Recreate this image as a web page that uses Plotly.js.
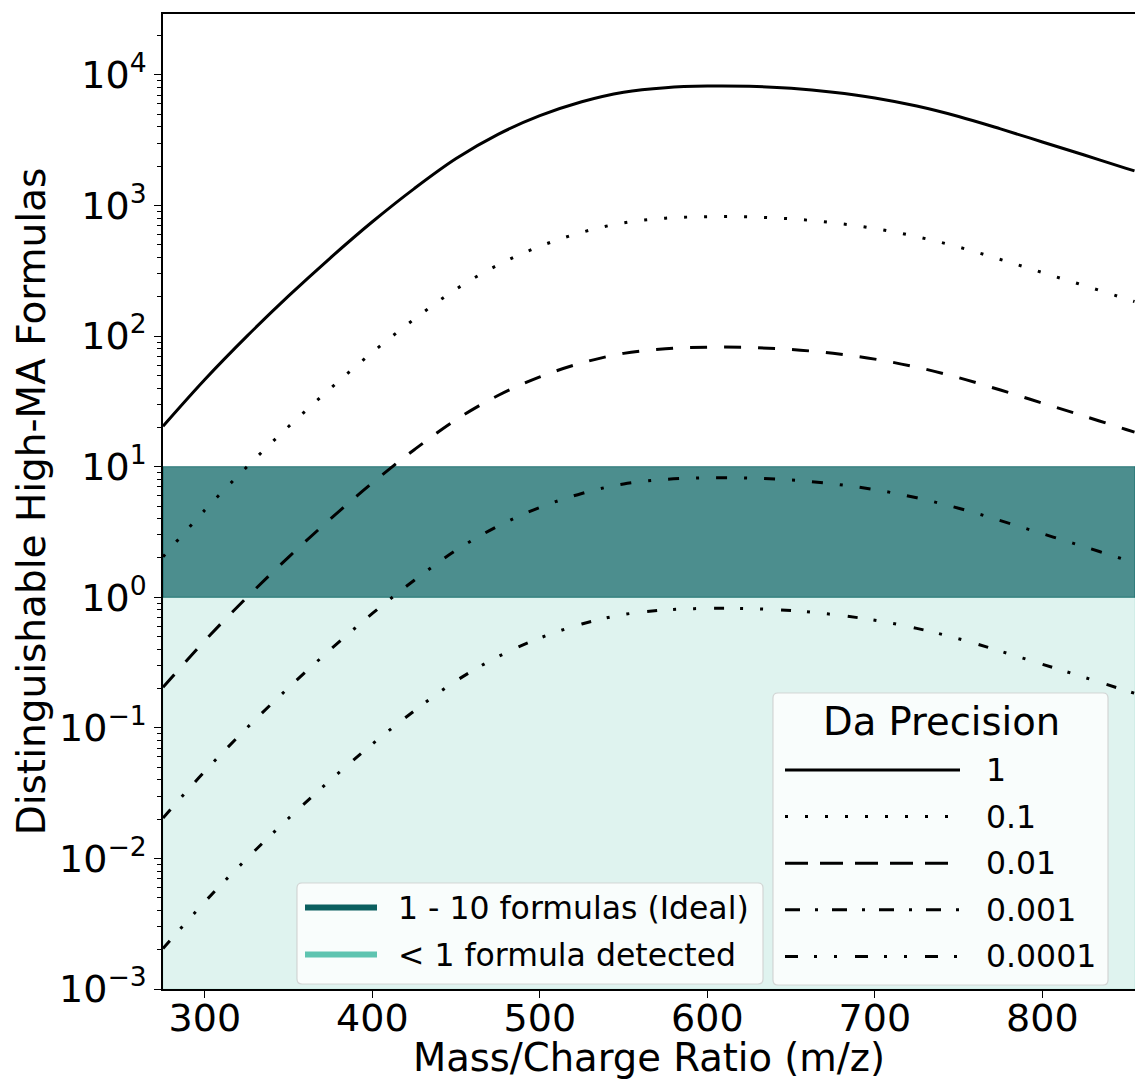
<!DOCTYPE html>
<html>
<head>
<meta charset="utf-8">
<script src="https://cdn.plot.ly/plotly-3.0.1.min.js"></script>
<style>
  html, body { margin: 0; padding: 0; background: #ffffff; }
  #chart { width: 1135px; height: 1080px; }
</style>
</head>
<body>
<div id="chart"></div>
<script>
// Mass/charge grid (m/z)
const mz = [275, 300, 325, 350, 375, 400, 425, 450, 475, 500, 525, 550, 575,
            600, 625, 650, 675, 700, 725, 750, 775, 800, 825, 850, 855];

// Distinguishable high-MA formulas for each Da precision
const prec1 = [20.42, 46.56, 99.54, 203.2, 398.1, 751.6, 1349, 2291, 3508, 4875, 6237, 7379, 7998,
               8222, 8185, 7907, 7379, 6668, 5781, 4808, 3864, 3069, 2438, 1928, 1841];
const prec01 = [2.042, 4.656, 9.954, 20.32, 39.81, 75.16, 134.9, 229.1, 350.8, 487.5, 623.7, 737.9, 799.8,
                822.2, 818.5, 790.7, 737.9, 666.8, 578.1, 480.8, 386.4, 306.9, 243.8, 192.8, 184.1];
const prec001 = [0.2042, 0.4656, 0.9954, 2.032, 3.981, 7.516, 13.49, 22.91, 35.08, 48.75, 62.37, 73.79, 79.98,
                 82.22, 81.85, 79.07, 73.79, 66.68, 57.81, 48.08, 38.64, 30.69, 24.38, 19.28, 18.41];
const prec0001 = [0.02042, 0.04656, 0.09954, 0.2032, 0.3981, 0.7516, 1.349, 2.291, 3.508, 4.875, 6.237, 7.379, 7.998,
                  8.222, 8.185, 7.907, 7.379, 6.668, 5.781, 4.808, 3.864, 3.069, 2.438, 1.928, 1.841];
const prec00001 = [0.002042, 0.004656, 0.009954, 0.02032, 0.03981, 0.07516, 0.1349, 0.2291, 0.3508, 0.4875, 0.6237, 0.7379, 0.7998,
                   0.8222, 0.8185, 0.7907, 0.7379, 0.6668, 0.5781, 0.4808, 0.3864, 0.3069, 0.2438, 0.1928, 0.1841];

const precisionLabels = ['1', '0.1', '0.01', '0.001', '0.0001'];
const precisionSeries = [prec1, prec01, prec001, prec0001, prec00001];

// Axis ticks
const xTicks = [300, 400, 500, 600, 700, 800];
const yTickVals = [0.001, 0.01, 0.1, 1, 10, 100, 1000, 10000];
const yTickExps = ['\u22123', '\u22122', '\u22121', '0', '1', '2', '3', '4'];

// Formula-count bands
const bandLabels = ['1 - 10 formulas (Ideal)', '< 1 formula detected'];
const idealBand = [1, 10];
const lowBand = [0.001, 1];

// Styling
const FONT = 'DejaVu Sans, Liberation Sans, sans-serif';
const lineDash = ['solid', '3px,17px', '17px,17px', '11px,17px,3px,17px', '10px,16px,3px,17px,3px,18px'];
const keyDash = ['solid', '3px,17px', '23px,12px', '15px,15px,3px,14px', '13px,16px,3px,17px,3px,18px'];
const idealFill = 'rgba(0,94,94,0.7)';
const lowFill = 'rgba(94,196,176,0.2)';
const idealKey = '#0b5f5f';
const lowKey = '#5ec4b0';

// Plot frame in pixels
const W = 1135, H = 1080;
const M = { l: 163, r: 0, t: 14, b: 91 };
const PW = W - M.l - M.r, PH = H - M.t - M.b;
const px = x => (x - M.l) / PW;
const py = y => (H - M.b - y) / PH;

const traces = precisionSeries.map((vals, i) => ({
  type: 'scatter',
  mode: 'lines',
  x: mz,
  y: vals,
  name: precisionLabels[i],
  showlegend: false,
  line: { color: '#000000', width: 3, dash: lineDash[i], shape: 'spline', smoothing: 1 },
  hoverinfo: 'x+y+name'
}));

function roundedBox(x0, y0, x1, y1, r) {
  // pixel box -> paper path with rounded corners
  const X = v => px(v).toFixed(5), Y = v => py(v).toFixed(5);
  return `M ${X(x0 + r)} ${Y(y0)} L ${X(x1 - r)} ${Y(y0)} Q ${X(x1)} ${Y(y0)} ${X(x1)} ${Y(y0 + r)} ` +
         `L ${X(x1)} ${Y(y1 - r)} Q ${X(x1)} ${Y(y1)} ${X(x1 - r)} ${Y(y1)} ` +
         `L ${X(x0 + r)} ${Y(y1)} Q ${X(x0)} ${Y(y1)} ${X(x0)} ${Y(y1 - r)} ` +
         `L ${X(x0)} ${Y(y0 + r)} Q ${X(x0)} ${Y(y0)} ${X(x0 + r)} ${Y(y0)} Z`;
}

const shapes = [
  { type: 'rect', xref: 'paper', yref: 'y', x0: 0, x1: 1, y0: lowBand[0], y1: lowBand[1],
    fillcolor: lowFill, line: { color: lowFill, width: 1 }, layer: 'below' },
  { type: 'rect', xref: 'paper', yref: 'y', x0: 0, x1: 1, y0: idealBand[0], y1: idealBand[1],
    fillcolor: idealFill, line: { color: idealFill, width: 1 }, layer: 'below' }
];
const annotations = [];

// Key: Da precision
shapes.push({ type: 'path', xref: 'paper', yref: 'paper', path: roundedBox(773, 693, 1108, 985, 5),
  fillcolor: 'rgba(255,255,255,0.8)', line: { color: 'rgba(204,204,204,0.8)', width: 1.2 }, layer: 'above' });
annotations.push({ xref: 'paper', yref: 'paper', x: px(941), y: py(721), xanchor: 'center', yanchor: 'middle',
  text: 'Da Precision', showarrow: false, font: { family: FONT, size: 38.5, color: '#000' } });
precisionLabels.forEach((lab, i) => {
  const yy = 770 + i * 46.6;
  shapes.push({ type: 'line', xref: 'paper', yref: 'paper', x0: px(785), x1: px(960), y0: py(yy), y1: py(yy),
    line: { color: '#000', width: 3, dash: keyDash[i] }, layer: 'above' });
  annotations.push({ xref: 'paper', yref: 'paper', x: px(984), y: py(yy), xanchor: 'left', yanchor: 'middle',
    text: lab, showarrow: false, font: { family: FONT, size: 31.5, color: '#000' } });
});

// Key: formula-count bands
shapes.push({ type: 'path', xref: 'paper', yref: 'paper', path: roundedBox(297, 883, 763, 984, 5),
  fillcolor: 'rgba(255,255,255,0.8)', line: { color: 'rgba(204,204,204,0.8)', width: 1.2 }, layer: 'above' });
[idealKey, lowKey].forEach((c, i) => {
  const yy = 907.5 + i * 47;
  shapes.push({ type: 'line', xref: 'paper', yref: 'paper', x0: px(305), x1: px(377), y0: py(yy), y1: py(yy),
    line: { color: c, width: 6 }, layer: 'above' });
  annotations.push({ xref: 'paper', yref: 'paper', x: px(396), y: py(yy), xanchor: 'left', yanchor: 'middle',
    text: bandLabels[i], showarrow: false, font: { family: FONT, size: 31.5, color: '#000' } });
});

const layout = {
  width: W, height: H,
  margin: M,
  paper_bgcolor: '#ffffff',
  plot_bgcolor: '#ffffff',
  font: { family: FONT, color: '#000000' },
  showlegend: false,
  xaxis: {
    range: [275, 855.3],
    tickvals: xTicks,
    ticks: 'outside', ticklen: 7, tickwidth: 1.3, tickcolor: '#000',
    ticklabelstandoff: -12,
    tickfont: { family: FONT, size: 38, color: '#000' },
    showline: true, linecolor: '#000', linewidth: 1.5, mirror: true,
    showgrid: false, zeroline: false,
    title: { text: 'Mass/Charge Ratio (m/z)', font: { family: FONT, size: 38.5, color: '#000' }, standoff: 8 }
  },
  yaxis: {
    type: 'log',
    range: [-3, 4.467],
    tickvals: yTickVals,
    ticktext: yTickExps.map(e => '10<sup>' + e + '</sup>'),
    ticks: 'outside', ticklen: 7, tickwidth: 1.3, tickcolor: '#000',
    tickfont: { family: FONT, size: 38, color: '#000' },
    minor: { ticks: 'outside', ticklen: 4, tickwidth: 1, tickcolor: '#000', dtick: 'D1', showgrid: false },
    showline: true, linecolor: '#000', linewidth: 1.5, mirror: false,
    showgrid: false, zeroline: false,
    title: { text: 'Distinguishable High-MA Formulas', font: { family: FONT, size: 39, color: '#000' }, standoff: 1 }
  },
  shapes: shapes,
  annotations: annotations
};

Plotly.newPlot('chart', traces, layout, { displayModeBar: false, responsive: false });
</script>
</body>
</html>
